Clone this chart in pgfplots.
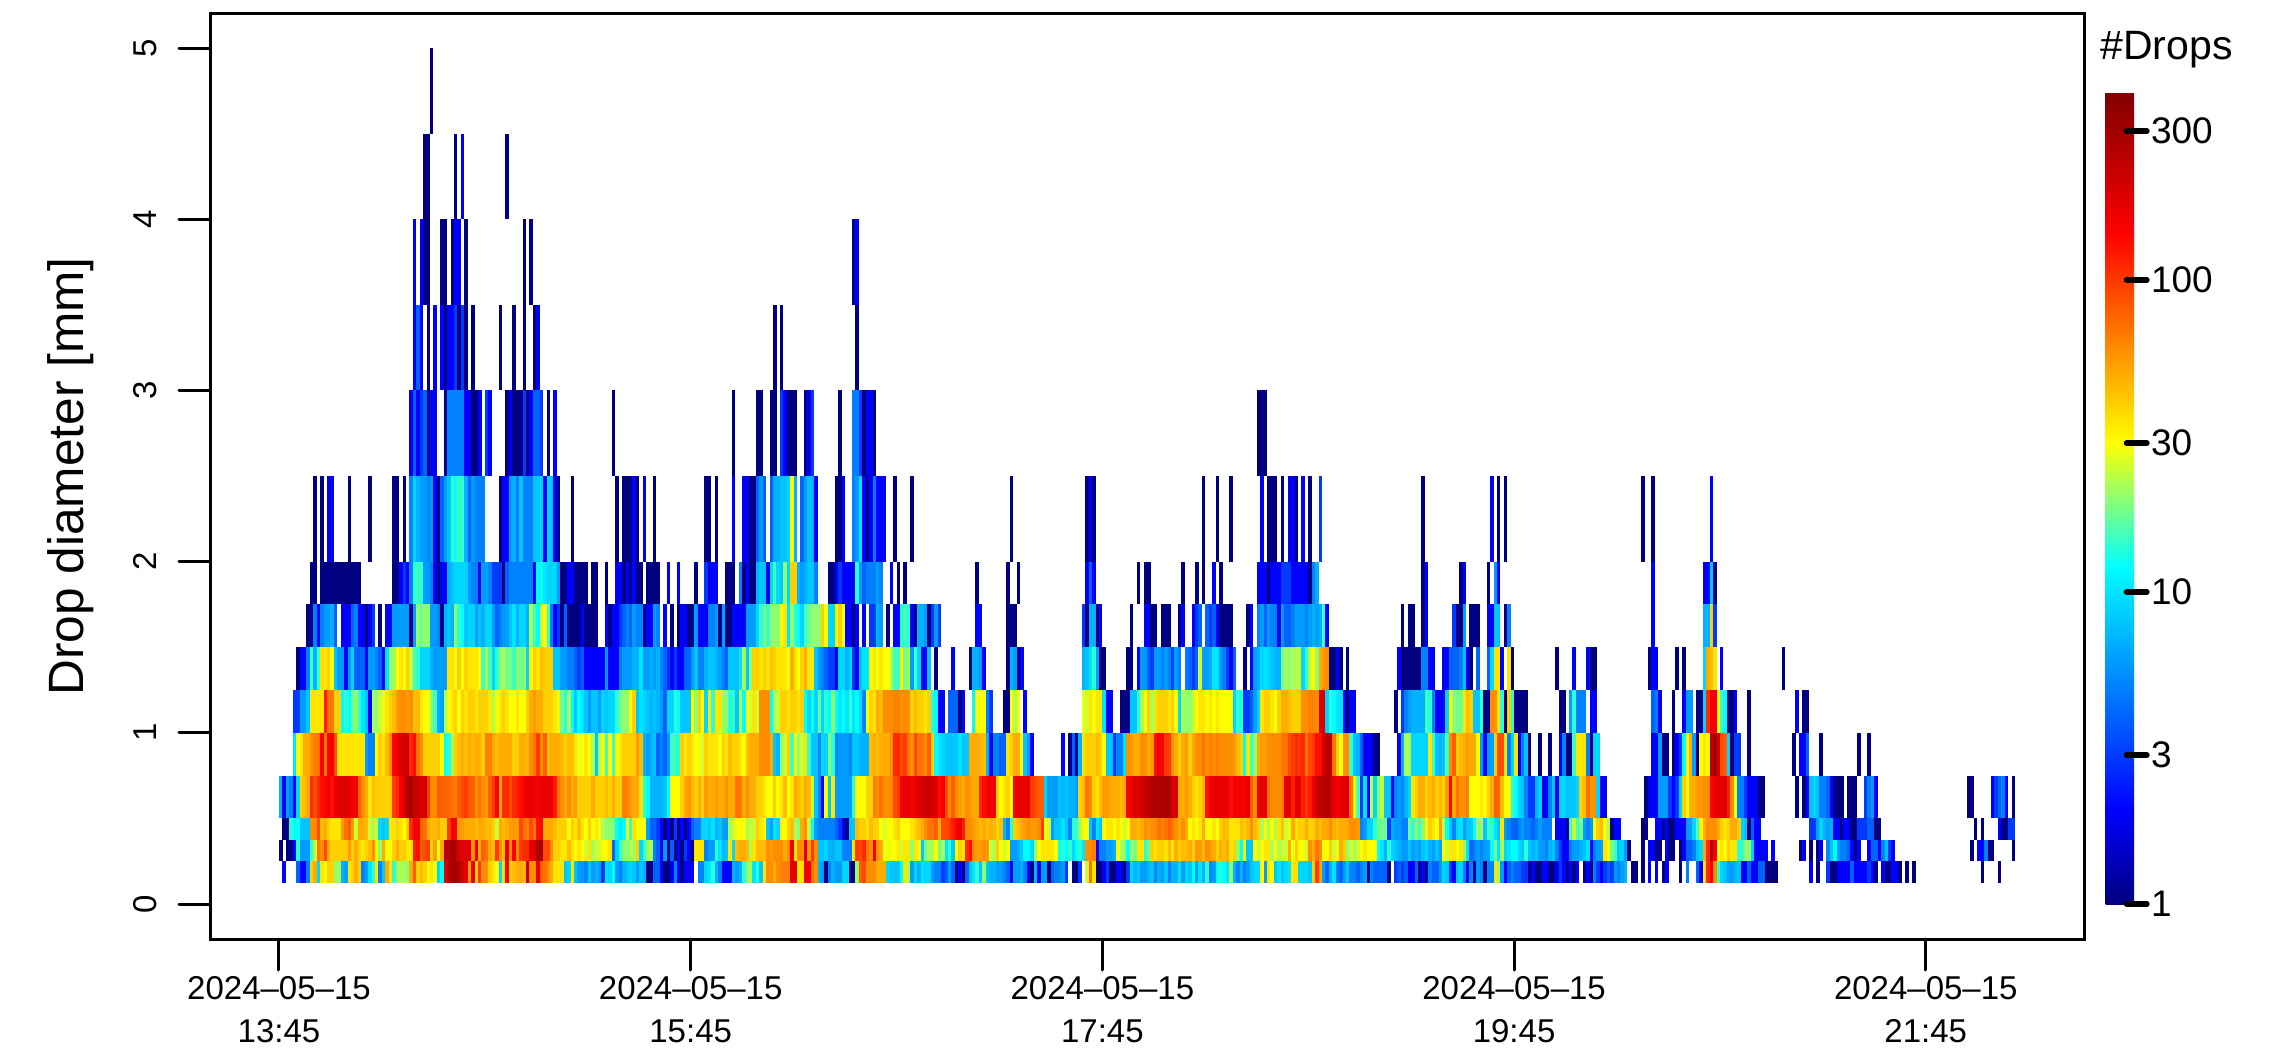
\documentclass[border=0pt]{standalone}
\usepackage{pgfplots}
\usepackage{pgfplotstable}
\usepackage{fontspec}
\setmainfont{Liberation Sans}
\pgfplotsset{compat=1.18}
\pgfdeclareplotmark{cS}{\pgfpathrectangle{\pgfpointorigin}{\pgfpoint{1.76pt}{10.7pt}}\pgfusepathqfill}
\pgfdeclareplotmark{cM}{\pgfpathrectangle{\pgfpointorigin}{\pgfpoint{1.76pt}{21.4pt}}\pgfusepathqfill}
\pgfdeclareplotmark{cL}{\pgfpathrectangle{\pgfpointorigin}{\pgfpoint{1.76pt}{42.8pt}}\pgfusepathqfill}
\pgfplotsset{cell/.style={scatter,only marks,scatter src=explicit,restrict y to domain=-1:10},
  spar/.style={scatter,only marks,scatter src=explicit}}
\newcommand\rd[2]{\pgfplotstableread[header=false,row sep=crcr]{#2\\}\tmpT \pgfplotstabletranspose#1\tmpT}
\newcommand\pc[4]{\addplot[cell,mark=#4] table[x expr={\thisrow{colnames}+#2},y expr={\thisrow{0}>0.5 ? #3 : -100},meta expr={log10(\thisrow{0}+0.0001)}]{#1};}
% bin 0.125-0.25
\rd\aA{0 2 0 0 0 4 2 2 5 40 50 9 35 30 40 40 20 22 7 6 35 40 50 40 5 6 10 14 35 5 8 50 35 14 22 22 22 20 50 80 40 45 40 30 35 30 9 12 170 260 280 300 260 200 170 55 170 40 100 60 60 40 35 30 9 35 150 40 45 50 50 45 220 60 60 170 80 70 60 50 35 35 35 8 9 35 8 6 6 5 8}
\rd\aB{6 7 6 3 10 9 12 6 5 7 8 9 8 6 8 7 1 1 4 4 2 1 1 2 5 2 1 2 2 2 0 5 5 9 10 14 7 5 2 2 2 7 6 7 14 20 22 10 14 8 35 60 60 50 60 65 65 65 170 170 35 35 150 160 70 60 7 6 1 5 7 6 6 9 9 1 1 20 80 90 60 60 60 50 50 50 9 8 8 8 12 35 22}
\rd\aC{6 9 7 10 9 9 6 5 5 3 4 6 4 1 2 1 4 8 10 14 8 20 8 7 7 6 6 5 4 2 6 6 7 5 2 1 7 2 6 6 1 4 5 5 6 3 0 1 1 3 0 25 70 35 1 1 2 3 1 1 2 2 1 3 9 7 8 6 6 7 8 5 7 6 8 5 7 7 10 6 9 8 12 6 10 7 14 5 6 12 14 12 10}
\rd\aD{20 7 5 7 5 6 8 9 9 30 6 35 30 8 10 8 9 10 35 35 9 9 9 8 40 100 50 6 4 7 10 5 4 6 8 5 5 4 5 6 1 5 4 4 4 4 1 0 3 4 3 4 2 2 4 1 2 1 5 4 4 6 9 8 3 2 8 9 5 2 5 1 6 5 1 5 5 35 22 6 2 4 5 4 4 3 3 1 2 1 1 2 2}
\rd\aE{1 1 2 3 2 1 2 1 2 0 1 2 1 5 3 2 3 4 3 6 5 6 7 0 1 1 0 1 0 2 0 2 0 1 2 0 0 0 1 0 5 0 0 4 2 35 110 150 60 15 9 8 6 6 7 8 2 2 4 2 2 4 4 1 1 1 1 0 0 0 0 0 0 0 0 0 2 0 1 0 0 3 1 1 2 2 2 2 4 2 2 2 2 3 2 1 0 2 1 1 2 2 1 0 1 0 1 0 0 0 0 0 0 0 0 0 0 0 0 0 0 0 0 0 0 0 1 0 0 0 0 1}
% bin 0.25-0.375
\rd\bA{1 0 1 1 2 14 6 6 6 14 25 70 60 90 50 40 40 40 40 40 55 40 50 40 35 40 45 60 30 20 50 30 30 40 50 40 40 35 35 120 130 80 90 100 40 55 30 50 250 270 280 280 200 170 180 180 60 170 50 80 70 50 45 100 60 45 170 60 140 60 100 110 110 170 190 270 280 90 90 60 40 40 35 35 45 35 30 35 30 25 35}
\rd\bB{22 25 25 30 30 35 4 9 14 20 20 22 22 40 9 14 22 22 5 4 2 6 1 4 1 2 1 3 2 1 35 35 35 5 6 6 14 10 7 8 35 9 45 50 50 45 22 35 45 45 45 60 55 60 60 60 50 60 160 35 60 60 180 55 100 60 8 8 9 7 7 8 8 5 5 5 35 100 90 110 70 60 150 60 50 30 28 30 30 35 25 35 35}
\rd\bC{20 35 30 8 18 22 22 30 18 22 10 14 8 30 40 35 110 130 60 55 55 60 55 25 22 40 30 25 30 6 6 7 8 12 12 9 20 30 35 35 35 35 30 12 14 12 14 9 12 14 10 60 60 65 2 5 5 6 6 7 30 22 20 12 22 18 35 35 14 18 40 35 40 40 35 45 35 50 40 45 45 50 40 55 55 45 60 55 50 40 50 45 50}
\rd\bD{35 40 20 12 30 8 8 30 25 30 35 35 22 30 22 25 25 50 28 40 30 30 25 60 50 70 60 30 30 40 25 30 50 40 20 25 22 25 30 35 30 30 30 12 10 7 14 9 8 7 6 6 8 6 7 6 8 9 7 6 8 6 30 25 35 35 30 35 20 10 4 5 6 5 6 6 12 18 10 22 9 10 12 12 9 8 14 8 7 8 6 6 5}
\rd\bE{7 8 5 3 2 2 5 6 6 7 8 10 2 5 6 6 35 30 18 15 8 9 6 1 0 0 0 1 0 2 2 1 1 0 2 1 1 0 1 2 4 4 5 8 9 50 110 250 150 30 35 30 40 35 35 14 15 20 20 9 2 2 2 2 0 2 0 0 0 0 0 0 0 1 2 0 1 0 1 2 0 5 8 12 6 5 5 4 2 1 2 0 0 2 4 4 2 5 8 3 2 0 0 0 0 0 0 0 0 0 0 0 0 0 0 0 0 0 0 0 0 0 0 1 0 2 2 5 1 1 0 0 0 0 0 1}
% bin 0.375-0.5
\rd\cA{0 1 1 14 12 12 8 8 8 60 60 90 45 50 40 35 35 35 55 70 80 55 25 50 50 45 25 22 25 9 8 9 35 35 40 35 30 40 110 150 160 80 70 50 45 45 50 40 40 100 150 150 55 55 50 50 50 45 50 50 45 45 40 25 50 45 50 55 55 55 90 70 65 90 70 130 140 50 50 50 45 40 40 40 30 40 35 45 35 30 40}
\rd\cB{30 35 30 22 20 20 20 12 10 12 30 14 35 30 30 30 6 4 4 3 2 1 2 1 3 1 2 1 2 4 5 5 9 9 8 10 7 8 6 6 22 25 30 30 30 22 25 25 40 35 30 8 6 10 9 30 30 40 45 22 20 50 60 25 12 6 5 5 5 5 5 4 3 2 1 8 8 45 40 40 35 45 40 40 30 25 30 30 35 40 30 30 30}
\rd\cC{35 40 45 50 60 70 70 80 50 90 90 100 120 140 170 120 60 60 55 50 45 50 45 50 45 40 45 7 5 14 40 45 50 55 60 55 55 60 100 30 25 6 8 8 10 8 5 14 14 22 30 30 8 5 10 8 30 35 35 30 35 30 25 30 50 50 45 50 60 55 60 60 70 65 70 80 70 60 50 60 50 30 35 30 35 50 30 30 35 30 40 45 45}
\rd\cD{35 35 35 45 40 45 60 45 40 22 30 22 30 22 35 45 25 30 50 35 40 40 50 40 40 50 45 50 50 60 50 45 50 50 50 60 60 55 5 6 9 9 14 18 18 18 3 7 6 6 5 5 18 14 20 15 20 30 40 35 30 55 25 12 8 5 9 10 6 8 8 12 20 22 8 15 14 10 8 35 6 5 4 4 5 6 5 5 4 5 6 5 5}
\rd\cE{5 0 2 2 2 1 15 25 15 18 6 5 6 30 40 45 30 22 1 2 2 0 0 0 0 0 0 1 1 0 0 2 2 1 2 1 1 2 2 2 6 6 9 15 30 50 60 60 60 50 40 35 40 50 50 40 9 8 1 4 2 2 0 0 0 0 0 0 0 0 0 0 0 0 0 0 3 3 6 9 7 6 7 2 2 1 2 2 1 1 3 3 3 4 4 1 1 0 0 0 0 0 0 0 0 0 0 0 0 0 0 0 0 0 0 0 0 0 0 0 0 0 0 0 1 0 1 0 0 0 0 2 1 1 3 3}
% bin 0.5-0.75
\rd\dA{7 2 6 5 2 9 40 45 50 110 90 110 130 140 170 130 170 170 180 190 170 160 150 80 60 50 35 45 40 40 40 40 40 100 110 150 200 260 280 220 220 200 200 100 60 60 80 80 75 75 70 65 80 90 100 80 80 60 70 60 55 80 100 140 50 110 110 90 110 120 130 150 170 170 160 150 170 170 170 170 120 70 60 50 60 50 55 40 40 40 40}
\rd\dB{50 40 40 40 45 40 50 40 40 65 65 55 50 50 35 14 12 7 7 7 7 8 12 30 30 30 40 50 55 45 40 50 40 55 50 50 55 50 50 60 50 50 70 70 50 60 50 50 40 40 35 30 30 40 30 35 45 30 35 50 45 40 50 45 25 8 5 2 30 8 35 6 6 6 6 6 14 30 30 30 40 40 65 60 70 60 60 60 90 100 150 170 170}
\rd\dC{150 160 190 200 210 210 200 190 130 150 90 60 80 60 55 50 60 55 50 50 110 130 150 160 150 40 30 35 40 30 150 170 170 170 170 100 90 80 80 9 6 6 6 8 7 8 7 7 6 40 45 70 60 40 35 45 55 55 50 50 50 45 50 150 170 180 190 200 230 240 270 280 270 280 280 270 200 190 50 50 55 50 40 35 40 45 130 160 170 170 170 170 170}
\rd\dD{130 150 160 150 150 170 80 60 160 170 170 70 60 60 60 65 170 180 120 180 170 120 100 120 160 220 240 240 270 230 170 160 170 170 180 70 30 15 3 10 2 25 9 20 25 8 8 2 5 6 5 7 9 35 40 50 50 40 45 50 40 45 40 55 140 50 70 60 60 65 30 30 30 35 30 40 50 80 75 45 30 30 14 12 9 8 5 3 3 7 9 2 2}
\rd\dE{5 8 2 9 9 8 8 8 9 40 45 70 55 60 9 2 2 0 0 0 0 0 0 0 0 0 0 0 1 2 2 2 6 6 6 3 2 3 9 40 30 50 50 55 55 60 60 140 160 180 170 190 120 60 28 5 5 3 2 2 2 1 1 0 0 0 0 0 0 0 0 0 1 0 1 2 8 9 8 5 5 4 2 1 1 1 0 1 1 1 0 0 3 5 6 2 0 0 0 0 0 0 0 0 0 0 0 0 0 0 0 0 0 0 0 0 0 0 0 0 0 0 1 1 0 0 0 0 0 2 3 4 5 2 0 1}
% bin 0.75-1
\rd\eA{0 0 0 0 10 30 35 50 50 60 65 70 150 70 140 150 90 35 35 35 35 35 35 35 35 6 5 5 30 40 35 45 60 140 170 190 200 200 110 130 70 60 40 40 40 40 40 30 12 14 22 40 45 50 45 50 45 50 50 40 65 65 50 45 50 50 50 50 40 40 50 50 45 60 70 100 60 80 45 50 50 50 45 40 45 45 35 28 30 35 30}
\rd\eB{22 8 22 30 15 30 15 30 35 40 40 40 40 55 45 7 6 7 8 4 5 4 6 15 15 14 40 35 40 35 30 30 25 40 35 35 35 30 40 35 45 40 40 35 30 45 50 50 50 60 60 60 50 8 7 20 25 40 15 30 20 25 35 14 8 8 5 9 9 20 14 5 6 6 6 5 8 8 7 7 7 45 50 45 50 50 50 60 110 110 90 100 70}
\rd\eC{60 90 70 70 60 80 40 12 10 9 8 8 8 8 10 8 8 50 50 50 45 45 7 2 5 5 4 4 35 40 50 50 30 8 6 2 0 0 0 0 0 0 0 0 2 0 1 4 1 7 35 40 40 40 45 40 30 8 8 3 5 5 10 60 55 50 50 60 60 50 55 130 170 140 100 100 60 50 40 50 55 40 50 60 60 70 60 65 60 65 60 60 60}
\rd\eD{60 55 45 40 12 35 15 20 50 55 55 60 60 60 60 70 70 90 100 110 100 110 70 90 100 130 130 200 240 240 70 40 30 60 60 15 8 7 4 2 2 2 1 1 0 0 0 0 0 2 7 22 22 9 9 9 9 9 35 15 8 7 8 15 60 80 40 45 50 55 50 50 30 6 2 6 6 40 90 90 35 5 9 35 2 5 8 1 0 0 1 0 0}
\rd\eE{1 0 0 2 5 1 1 15 35 35 35 5 1 9 9 0 0 0 0 0 0 0 0 0 0 0 0 0 0 0 2 2 6 1 1 0 1 2 3 12 30 50 6 1 30 35 30 250 280 200 90 80 9 1 3 3 0 0 1 0 0 0 0 0 0 0 0 0 0 0 0 1 0 2 2 4 0 0 0 1 0 0 0 0 0 0 0 0 0 0 1 0 0 1}
% bin 1-1.25
\rd\fA{0 0 0 0 3 3 6 6 8 35 35 35 35 120 70 70 40 40 12 14 12 18 20 14 10 8 2 22 20 25 28 35 40 45 55 60 60 55 60 45 45 35 30 30 20 15 7 6 22 30 35 40 30 40 35 40 40 35 40 40 40 35 22 30 35 40 35 30 30 35 30 30 40 50 55 50 50 40 40 40 35 28 18 14 22 12 8 12 10 8 6}
\rd\fB{8 8 6 9 8 9 9 14 18 20 20 30 40 8 10 9 8 7 8 7 6 4 9 9 14 12 8 8 8 30 20 40 30 9 35 14 35 35 20 20 14 14 8 22 12 30 25 35 25 60 60 60 12 22 25 40 40 35 40 40 35 40 12 9 12 9 18 9 14 12 20 12 10 12 10 14 10 12 9 5 30 40 35 50 45 60 60 60 65 65 60 60 60}
\rd\fC{40 45 40 40 35 40 14 12 2 2 0 4 4 4 1 2 0 0 12 30 30 30 5 3 0 0 0 1 1 30 22 30 0 2 0 0 0 0 0 0 0 0 0 0 0 0 0 0 0 0 28 25 35 30 35 35 10 2 2 0 0 1 1 1 8 8 14 22 30 40 22 35 40 40 40 35 40 30 9 22 20 20 25 30 35 35 30 35 30 35 30 30 30}
\rd\fD{30 9 14 14 3 3 4 6 9 35 40 40 35 30 40 50 50 45 40 40 40 60 60 65 65 60 190 190 9 14 12 10 10 2 1 2 2 0 0 0 0 0 0 0 0 0 0 0 1 0 3 5 6 7 7 7 7 15 14 5 2 2 2 9 30 20 18 18 35 45 40 8 8 15 1 1 60 60 35 14 1 40 14 1 1 1 1}
\rd\fE{0 0 0 1 1 0 6 14 5 5 5 0 2 2 0 0 0 0 0 0 0 0 0 0 0 0 0 0 0 0 4 5 2 0 0 0 1 0 0 2 6 6 0 1 1 9 110 150 160 30 15 12 1 1 2 0 0 0 1 0 0 0 0 0 0 0 0 0 0 0 0 0 2 0 1 1}
% bin 1.25-1.5
\rd\gA{0 0 0 0 0 1 2 2 5 15 7 15 35 35 40 30 8 6 6 2 6 9 4 4 4 2 6 6 5 4 2 10 20 22 30 35 30 40 25 15 14 9 9 9 7 6 6 6 6 35 35 28 40 30 40 35 35 35 30 15 22 15 9 14 20 22 18 18 15 20 18 20 9 30 40 35 45 40 40 40 8 8 6 6 5 5 4 3 4 2 2}
\rd\gB{2 2 2 2 6 2 2 2 5 6 6 6 7 7 10 6 6 7 6 7 5 4 3 2 3 2 2 4 4 6 8 5 5 7 8 8 7 6 5 4 8 8 8 10 22 8 20 40 40 35 40 35 45 40 35 35 35 30 50 35 30 40 50 35 35 8 6 5 4 3 3 2 9 9 7 9 3 2 8 10 10 30 35 30 35 30 30 22 15 15 30 18 22}
\rd\gC{6 15 9 2 2 8 0 1 0 0 0 0 2 0 0 0 0 1 7 7 6 2 0 0 0 0 0 0 1 7 6 1 2 0 0 0 0 0 0 0 0 0 0 0 0 0 0 0 0 0 7 8 10 14 6 1 1 0 0 0 0 0 0 1 1 0 2 6 6 4 3 6 6 5 6 5 3 6 5 0 5 4 3 4 25 6 6 7 10 10 6 5 3}
\rd\gD{2 4 0 0 1 0 2 6 7 9 10 9 8 7 7 18 22 20 22 22 25 9 14 25 30 20 50 55 60 1 1 2 1 0 1 0 0 0 0 0 0 0 0 0 0 0 0 0 0 2 1 1 1 1 1 1 5 5 2 2 0 0 2 2 4 4 4 5 8 2 1 0 4 0 0 4 9 35 35 2 0 35 1}
\rd\gE{0 0 1 0 0 0 0 2 0 0 0 2 1 1 0 0 0 0 0 0 0 0 0 0 0 0 0 0 0 1 2 2 0 0 0 0 0 1 0 1 0 0 0 0 0 9 50 45 35 0 2 0 0 0 0 0 0 0 0 0 0 0 0 0 0 0 0 0 1}
% bin 1.5-1.75
\rd\hA{0 0 0 0 0 0 0 0 1 1 5 2 5 6 6 7 4 0 2 2 2 4 5 2 2 1 2 3 0 1 0 2 2 6 6 6 6 6 1 6 20 18 20 20 6 6 5 1 7 8 7 20 14 12 8 9 9 6 8 7 9 9 6 4 5 6 6 8 10 7 9 9 7 22 15 12 25 30 15 5 2 3 1 4 1 1 1 1 2 1 1}
\rd\hB{1 1 0 0 2 1 2 2 3 4 5 4 6 5 5 1 2 2 6 5 0 2 0 1 0 1 2 2 1 1 6 2 2 2 5 5 6 1 6 1 1 2 2 2 2 6 6 6 9 14 18 15 20 20 20 30 35 10 20 14 12 9 15 18 20 20 20 40 30 9 9 30 40 30 2 2 1 2 0 2 0 3 3 7 6 0 1 0 2 2 14 15 14 7 8 7 7 6 4 3 6 3}
\rd\hC{2 1 0 0 0 1 0 0 0 0 0 0 0 0 0 0 0 0 0 2 2 0 0 0 0 0 0 0 1 1 1 0 0 0 0 0 0 0 0 0 0 0 0 0 0 0 0 0 0 0 3 1 7 7 1 2 0 0 0 0 0 0 0 0 1 0 0 0 2 2 1 1 0 1 1 1 0 0 1 2 0 0 2 3 4 0 4 3 4 2 1 1 1}
\rd\hD{1 0 0 0 0 1 2 0 5 6 4 6 5 5 2 6 4 4 5 6 6 6 5 6 7 6 7 15 2 0 0 0 0 0 0 0 0 0 0 0 0 0 0 0 0 0 0 0 0 0 1 0 1 1 0 0 1 2 0 0 0 0 0 0 0 3 1 1 6 0 1 1 1 0 0 2 2 8 8 0 1 5}
\rd\hE{0 0 0 0 0 0 0 0 0 0 0 0 0 0 0 0 0 0 0 0 0 0 0 0 0 0 0 0 0 0 2 0 0 0 0 0 0 0 0 0 0 0 0 0 0 7 7 40 3}
% bin 1.75-2 (first part)
\rd\iA{0 0 0 0 0 0 0 0 0 1 1 0 1 1 1 1 1 1 1 1 1 1 1 1 0 0 0 0 0 0 0 0 0 1 1 2 3 2 5 14 15 14 6 6 5 2 1 2 2 7 8 9 9 9 9 6 5 5 2 6 6 5 3 3 3 1 4 5 5 5 5 5 5 5 2 12 12 10 9 9 9 6 1 1 2 2 1 1 1 1 0 1 1 0 0 1 0 0 2 2 1 2 1 2 1 1 0 1 1 1 1 0 0 2 0 0 2 0 0 0 0 1}
\begin{document}
\begin{tikzpicture}
\useasboundingbox (0,0) rectangle (1139.5pt,525pt);
\begin{axis}[at={(105pt,55.5pt)},anchor=south west,scale only axis,width=937.3pt,height=462.5pt,
  xmin=-20.11,xmax=526.3,ymin=-0.2044,ymax=5.199,
  xtick={0,120,240,360,480},
  xticklabels={{2024–05–15\\13:45},{2024–05–15\\15:45},{2024–05–15\\17:45},{2024–05–15\\19:45},{2024–05–15\\21:45}},
  ytick={0,1,2,3,4,5},yticklabels={0,1,2,3,4,5},
  xtick pos=bottom,ytick pos=left,tick align=outside,major tick length=15.5pt,
  tick style={black,line width=1.5pt,line cap=round},
  axis line style={black,line width=1.5pt},
  xticklabel style={align=center,anchor=north,inner sep=0pt,yshift=-3pt,font=\fontsize{16.5}{21.5}\selectfont},
  yticklabel style={rotate=90,anchor=south,inner sep=0pt,yshift=11pt,font=\fontsize{16.5}{20}\selectfont},
  ylabel={Drop diameter [mm]},
  ylabel style={at={(axis description cs:-0.0745,0.5)},anchor=center,font=\fontsize{24.8}{28}\selectfont},
  colormap={drops}{rgb(0pt)=(0,0,0.5); rgb(116pt)=(0,0,1); rgb(415pt)=(0,1,1); rgb(568pt)=(1,1,0); rgb(826pt)=(1,0,0); rgb(1000pt)=(0.5,0,0)},
  point meta min=0,point meta max=2.602,
  colorbar,
  colorbar style={at={(parent axis.south east)},anchor=south west,xshift=2pt,yshift=17.5pt,
    scale only axis,width=15.5pt,height=406pt,
    ytick={0,0.4771,1,1.4771,2,2.4771},yticklabels={1,3,10,30,100,300},
    ytick pos=right,yticklabel pos=right,tick align=center,major tick length=10pt,
    tick style={black,line width=3pt,line cap=round},
    axis line style={draw=none},
    yticklabel style={anchor=west,inner sep=0pt,xshift=2pt,font=\fontsize{18.5}{20}\selectfont}},
  clip=false]
\pc\aA{0}{0.125}{cS}\pc\aB{91}{0.125}{cS}\pc\aC{184}{0.125}{cS}\pc\aD{277}{0.125}{cS}\pc\aE{370}{0.125}{cS}
\pc\bA{0}{0.25}{cS}\pc\bB{91}{0.25}{cS}\pc\bC{184}{0.25}{cS}\pc\bD{277}{0.25}{cS}\pc\bE{370}{0.25}{cS}
\pc\cA{0}{0.375}{cS}\pc\cB{91}{0.375}{cS}\pc\cC{184}{0.375}{cS}\pc\cD{277}{0.375}{cS}\pc\cE{370}{0.375}{cS}
\pc\dA{0}{0.5}{cM}\pc\dB{91}{0.5}{cM}\pc\dC{184}{0.5}{cM}\pc\dD{277}{0.5}{cM}\pc\dE{370}{0.5}{cM}
\pc\eA{0}{0.75}{cM}\pc\eB{91}{0.75}{cM}\pc\eC{184}{0.75}{cM}\pc\eD{277}{0.75}{cM}\pc\eE{370}{0.75}{cM}
\pc\fA{0}{1}{cM}\pc\fB{91}{1}{cM}\pc\fC{184}{1}{cM}\pc\fD{277}{1}{cM}\pc\fE{370}{1}{cM}
\pc\gA{0}{1.25}{cM}\pc\gB{91}{1.25}{cM}\pc\gC{184}{1.25}{cM}\pc\gD{277}{1.25}{cM}\pc\gE{370}{1.25}{cM}
\pc\hA{0}{1.5}{cM}\pc\hB{91}{1.5}{cM}\pc\hC{184}{1.5}{cM}\pc\hD{277}{1.5}{cM}\pc\hE{370}{1.5}{cM}
\pc\iA{0}{1.75}{cM}
\addplot[spar,mark=cM] table[header=false,x index=0,y expr=1.75,meta expr={log10(\thisrowno{1}+0.0001)}]{
124 3
125 2
126 2
127 2
130 1
131 1
132 1
134 5
135 1
136 2
137 1
138 1
139 7
140 8
141 8
142 2
143 9
144 15
145 9
146 8
147 20
148 9
149 40
150 40
151 7
152 6
153 7
154 8
155 8
156 5
160 1
161 1
162 2
163 3
164 2
165 2
166 2
167 2
168 14
169 6
170 4
171 5
172 5
173 5
174 6
175 5
178 2
180 1
182 1
203 1
212 1
215 1
235 2
236 4
237 2
250 1
252 1
253 1
263 1
267 1
269 1
272 2
274 1
285 2
286 2
287 2
288 1
289 2
290 2
291 2
292 3
293 3
294 3
295 2
296 2
297 2
298 2
299 2
300 1
301 5
302 7
333 1
334 2
344 1
345 2
352 1
354 6
355 2
400 2
415 2
416 2
417 8
418 1
};
\addplot[spar,mark=cL] table[header=false,x index=0,y expr=2,meta expr={log10(\thisrowno{1}+0.0001)}]{
10 1
12 1
14 2
15 2
20 1
26 1
33 1
34 1
36 1
38 5
39 9
40 7
41 6
42 6
43 5
44 6
45 2
46 1
47 4
48 6
49 8
50 14
51 12
52 15
53 14
54 7
55 4
56 6
57 5
58 5
59 5
64 1
65 2
66 2
67 6
68 7
69 5
70 8
71 5
72 5
73 5
74 8
75 8
76 9
77 2
78 9
79 8
80 2
81 1
85 1
98 1
100 1
101 1
102 1
103 2
104 1
106 2
109 1
124 1
125 1
127 1
132 2
135 2
136 2
137 1
138 1
139 4
140 6
141 4
143 4
144 7
145 7
146 8
147 8
148 9
149 30
150 7
152 4
153 6
154 8
155 7
156 2
162 1
163 1
164 2
167 5
168 6
169 10
170 2
171 1
172 2
173 5
174 2
175 2
176 2
179 1
184 1
213 1
235 1
236 2
237 1
269 1
273 1
277 1
286 2
288 1
289 1
290 1
292 1
294 2
295 2
296 1
298 2
300 1
303 3
333 1
353 2
355 1
357 1
397 1
400 1
417 2
};
\addplot[spar,mark=cL] table[header=false,x index=0,y expr=2.5,meta expr={log10(\thisrowno{1}+0.0001)}]{
38 2
39 4
40 2
41 3
42 4
43 1
44 2
45 2
48 1
49 5
50 5
51 5
52 5
53 5
54 2
55 2
56 1
57 1
58 2
60 3
61 2
66 1
67 2
68 1
69 1
70 1
71 3
72 1
73 2
74 4
75 4
76 3
78 1
80 2
97 1
132 1
139 1
140 1
143 1
144 1
146 3
147 2
148 1
149 1
150 1
153 1
154 2
155 3
163 1
167 5
168 5
169 3
170 1
171 2
172 2
173 1
285 1
286 1
287 1
};
\addplot[spar,mark=cL] table[header=false,x index=0,y expr=3,meta expr={log10(\thisrowno{1}+0.0001)}]{
39 2
40 4
41 2
43 1
45 2
47 2
48 1
49 2
50 2
51 3
52 1
53 3
54 1
56 1
64 1
68 1
71 1
74 1
75 2
144 1
146 1
168 1
};
\addplot[spar,mark=cL] table[header=false,x index=0,y expr=3.5,meta expr={log10(\thisrowno{1}+0.0001)}]{
39 2
41 2
42 1
43 1
47 1
48 1
50 1
51 2
52 2
54 1
71 1
73 1
167 1
168 2
};
\addplot[spar,mark=cL] table[header=false,x index=0,y expr=4,meta expr={log10(\thisrowno{1}+0.0001)}]{
42 1
43 1
51 1
53 2
66 1
};
\addplot[spar,mark=cL] table[header=false,x index=0,y expr=4.5,meta expr={log10(\thisrowno{1}+0.0001)}]{
44 1
};
\end{axis}
\node[anchor=base west,inner sep=0pt,font=\fontsize{20.5}{24}\selectfont] at (1050pt,495pt) {\#Drops};
\end{tikzpicture}
\end{document}
